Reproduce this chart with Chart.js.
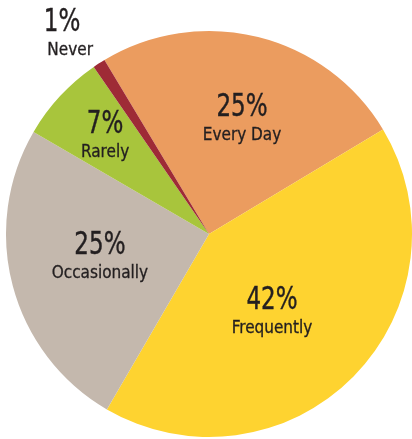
<!DOCTYPE html>
<html>
<head>
<meta charset="utf-8">
<script src="https://cdn.jsdelivr.net/npm/chart.js@4"></script>
<style>
html,body{margin:0;padding:0;background:#fff;}
#wrap{width:412px;height:439px;position:relative;}
</style>
</head>
<body>
<div id="wrap"><canvas id="c"></canvas></div>
<script>
const categories = ["Every Day", "Frequently", "Occasionally", "Rarely", "Never"];
const values = [25, 42, 25, 7, 1];
const percentLabels = ["25%", "42%", "25%", "7%", "1%"];
const colors = ["#EB9C5F", "#FED330", "#C4B8AD", "#A8C53C", "#9E2B36"];

const labelRadius = [0.594, 0.49, 0.548, 0.707, 1.215];
const labelAngleShift = [1.9, 6.1, 3.4, 0.8, -2.6];

const FONT = '"DejaVu Sans Condensed", "DejaVu Sans", sans-serif';

const labelPlugin = {
  id: 'sliceLabels',
  afterDatasetsDraw(chart) {
    const ctx = chart.ctx;
    const meta = chart.getDatasetMeta(0);
    ctx.save();
    ctx.fillStyle = '#231F20';
    ctx.strokeStyle = '#231F20';
    ctx.textAlign = 'center';
    ctx.textBaseline = 'middle';
    meta.data.forEach((arc, i) => {
      const p = arc.getProps(['x','y','startAngle','endAngle','outerRadius'], true);
      const mid = (p.startAngle + p.endAngle) / 2 + labelAngleShift[i] * Math.PI / 180;
      const r = p.outerRadius * labelRadius[i];
      const ax = p.x + Math.cos(mid) * r;
      const ay = p.y + Math.sin(mid) * r;
      ctx.save();
      ctx.translate(ax, ay - 10);
      ctx.scale(0.8, 1);
      ctx.font = '32px ' + FONT;
      ctx.lineWidth = 0.4;
      ctx.fillText(percentLabels[i], i === 4 ? -5 : 0, 0);
      ctx.strokeText(percentLabels[i], i === 4 ? -5 : 0, 0);
      ctx.restore();
      ctx.save();
      ctx.font = '17px ' + FONT;
      ctx.lineWidth = 0.3;
      ctx.fillText(categories[i], ax + (i === 4 ? 4 : 0), ay + 18);
      ctx.strokeText(categories[i], ax + (i === 4 ? 4 : 0), ay + 18);
      ctx.restore();
    });
    ctx.restore();
  }
};

new Chart(document.getElementById('c'), {
  type: 'pie',
  data: {
    labels: categories,
    datasets: [{
      data: values,
      backgroundColor: colors,
      borderWidth: 0
    }]
  },
  options: {
    responsive: true,
    maintainAspectRatio: false,
    animation: false,
    rotation: -31,
    layout: { padding: { left: 6, right: 0, top: 31, bottom: 2 } },
    plugins: { legend: { display: false }, tooltip: { enabled: false } }
  },
  plugins: [labelPlugin]
});
</script>
</body>
</html>
